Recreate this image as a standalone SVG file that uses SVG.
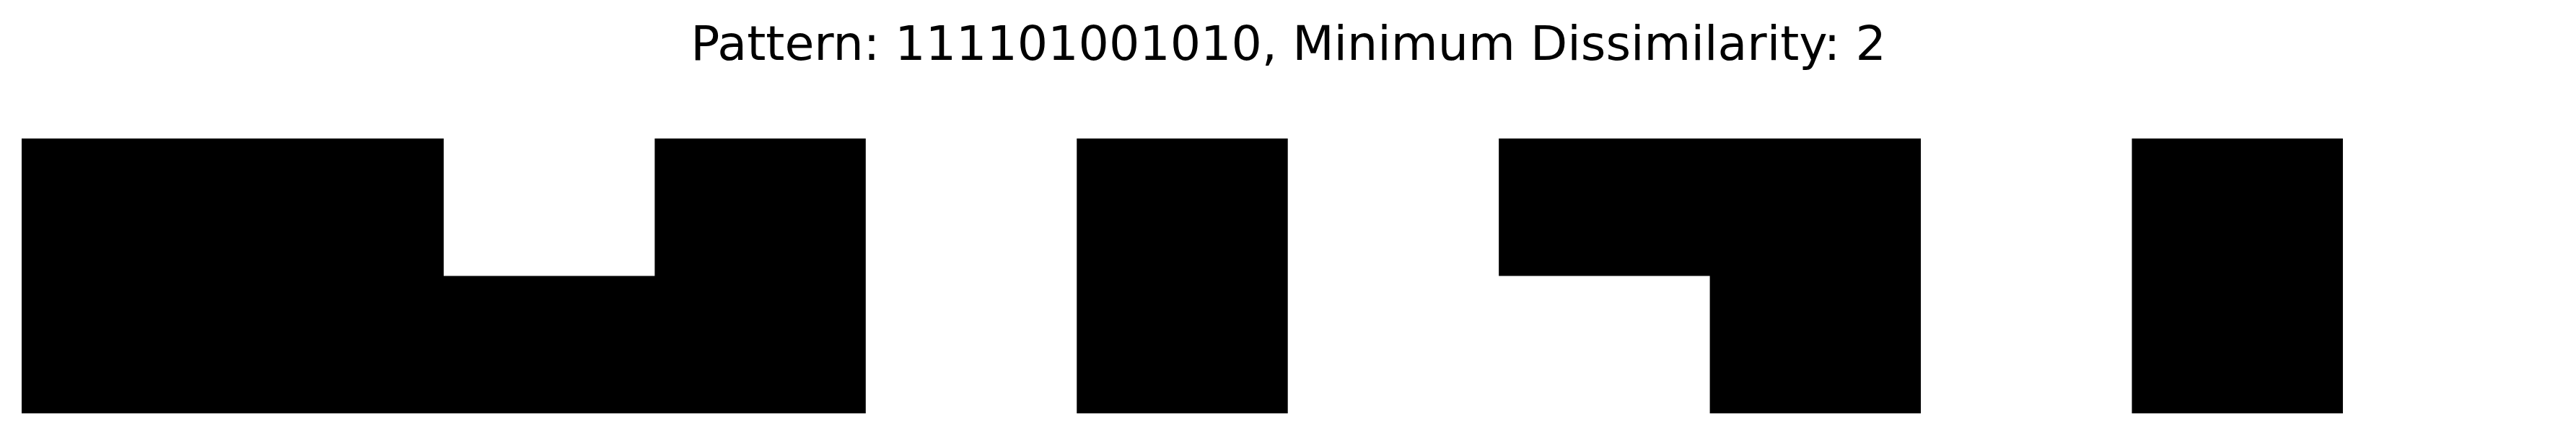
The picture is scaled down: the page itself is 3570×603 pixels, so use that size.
<svg xmlns="http://www.w3.org/2000/svg" width="3570" height="603" viewBox="0 0 3570 603">
<style>
.cell{fill:#000000;stroke:none}
.title{font-family:"DejaVu Sans",sans-serif;font-size:66.6px;fill:#000000}
</style>
<rect x="0" y="0" width="3570" height="603" fill="#ffffff"/>
<text class="title" x="1785.5" y="82.7" text-anchor="middle">Pattern: 111101001010, Minimum Dissimilarity: 2</text>
<g id="block-a"><path class="cell" d="M30,192 H614.9 V382.5 H907.35 V192 H1199.8 V573 H30 Z"/></g>
<g id="block-b"><rect class="cell" x="1492.25" y="192" width="292.45" height="381"/></g>
<g id="block-c"><path class="cell" d="M2077.15,192 H2662.05 V573 H2369.6 V382.5 H2077.15 Z"/></g>
<g id="block-d"><rect class="cell" x="2954.5" y="192" width="292.45" height="381"/></g>
<g id="connectors"></g>
</svg>
